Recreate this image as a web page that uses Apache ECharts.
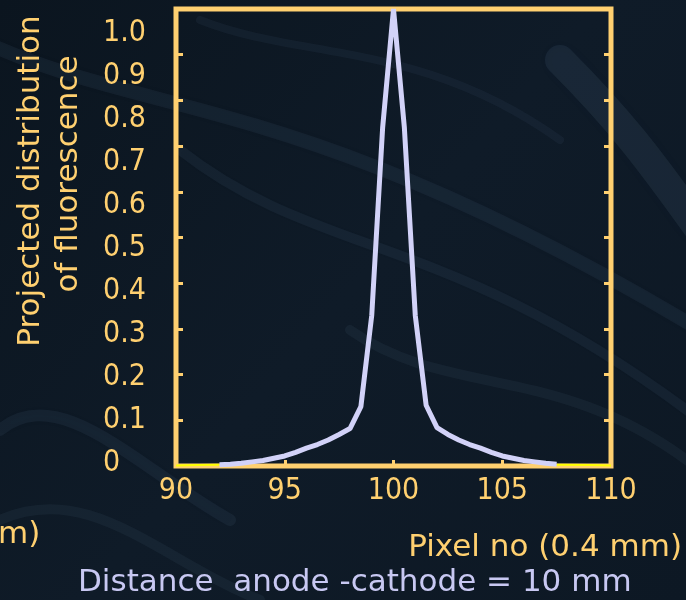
<!DOCTYPE html>
<html>
<head>
<meta charset="utf-8">
<script src="https://cdn.jsdelivr.net/npm/echarts@6/dist/echarts.min.js"></script>
<style>
html, body { margin: 0; padding: 0; background: #0d1824; }
#chart { width: 686px; height: 600px; }
</style>
</head>
<body>
<div id="chart"></div>
<script>
// pixel number (0.5 steps) and projected fluorescence
var pixelNo = [92, 92.5, 93, 93.5, 94, 94.5, 95, 95.5, 96, 96.5, 97, 97.5, 98, 98.5, 99, 99.5,
    100, 100.5, 101, 101.5, 102, 102.5, 103, 103.5, 104, 104.5, 105, 105.5, 106, 106.5, 107, 107.5];
var fluorescence = [0.003, 0.004, 0.006, 0.009, 0.012, 0.017, 0.022, 0.030, 0.039, 0.047, 0.057, 0.069, 0.082, 0.13, 0.33, 0.74,
    1.0, 0.74, 0.33, 0.133, 0.084, 0.069, 0.057, 0.047, 0.039, 0.030, 0.022, 0.017, 0.012, 0.009, 0.006, 0.004];

// thin yellow trace visible only at the edges
var edgeX = [90, 91, 92, 100, 107.5, 109, 110];
var edgeY = [0.001, 0.002, 0.003, '-', 0.003, 0.002, 0.001];

var xTicks = [90, 95, 100, 105, 110];
var yTicks = [0, 0.1, 0.2, 0.3, 0.4, 0.5, 0.6, 0.7, 0.8, 0.9, 1.0];

var orange = '#FFD070';
var lavender = '#D2D2F8';
var tickFont = '"Liberation Sans Narrow", "DejaVu Sans Condensed", sans-serif';
var textFont = '"DejaVu Sans", Verdana, sans-serif';

var mainData = pixelNo.map(function (x, i) { return [x, fluorescence[i]]; });
var edgeData = edgeX.map(function (x, i) { return [x, edgeY[i]]; });

var chart = echarts.init(document.getElementById('chart'));

// soft streaks for the textured slide background
function streak(x1, y1, cx1, cy1, cx2, cy2, x2, y2, w, a) {
    return {
        type: 'bezierCurve', z: -10, silent: true,
        shape: { x1: x1, y1: y1, cpx1: cx1, cpy1: cy1, cpx2: cx2, cpy2: cy2, x2: x2, y2: y2 },
        style: { stroke: 'rgba(100,130,160,' + a + ')', lineWidth: w, fill: null, lineCap: 'round',
            shadowBlur: 18, shadowColor: 'rgba(100,130,160,' + a + ')' }
    };
}

var option = {
    backgroundColor: {
        type: 'linear', x: 0, y: 0, x2: 1, y2: 1,
        colorStops: [
            { offset: 0, color: '#0b151f' },
            { offset: 0.5, color: '#0f1b28' },
            { offset: 1, color: '#0d1824' }
        ]
    },
    animation: false,
    grid: [
        { left: 176, top: 9, width: 435, height: 457, show: true,
          borderColor: orange, borderWidth: 5, backgroundColor: 'transparent' },
        { left: 110, top: 33, width: 1, height: 430 }
    ],
    xAxis: [
        {
            type: 'value', gridIndex: 0, min: 90, max: 110, interval: 5,
            axisLine: { show: false },
            axisTick: { inside: true, length: 6, lineStyle: { color: orange, width: 3 } },
            splitLine: { show: false },
            axisLabel: { color: orange, fontFamily: tickFont, fontSize: 30, margin: 10,
                formatter: function (v) { return xTicks.indexOf(v) >= 0 ? String(v) : ''; } }
        },
        { type: 'value', gridIndex: 1, show: false, min: 0, max: 1 }
    ],
    yAxis: [
        {
            type: 'value', gridIndex: 0, min: 0, max: 1, interval: 0.1,
            axisLine: { show: false },
            axisTick: { inside: true, length: 7, lineStyle: { color: orange, width: 3 } },
            splitLine: { show: false },
            axisLabel: { show: false }
        },
        {
            type: 'value', gridIndex: 0, min: 0, max: 1, interval: 0.1, position: 'right',
            axisLine: { show: false },
            axisTick: { inside: true, length: 7, lineStyle: { color: orange, width: 3 } },
            splitLine: { show: false },
            axisLabel: { show: false }
        },
        {
            // tick labels sit on their own slightly compressed scale, as in the slide
            type: 'value', gridIndex: 1, min: 0, max: 1, interval: 0.1,
            axisLine: { show: false }, axisTick: { show: false }, splitLine: { show: false },
            axisLabel: {
                color: orange, fontFamily: tickFont, fontSize: 30, align: 'left', margin: 7,
                formatter: function (v) {
                    var i = Math.round(v * 10);
                    return i === 0 ? '0' : yTicks[i].toFixed(1);
                }
            }
        }
    ],
    series: [
        {
            type: 'line', xAxisIndex: 0, yAxisIndex: 0, data: edgeData,
            showSymbol: false, lineStyle: { color: '#FFFF00', width: 2 }, z: 3
        },
        {
            type: 'line', xAxisIndex: 0, yAxisIndex: 0, data: mainData,
            showSymbol: false, lineStyle: { color: lavender, width: 5 }, z: 4
        }
    ],
    graphic: [
        streak(-20, 40, 150, 120, 300, 90, 700, 330, 14, 0.10),
        streak(180, 150, 320, 260, 450, 230, 700, 420, 10, 0.10),
        streak(560, 60, 620, 120, 650, 160, 700, 230, 30, 0.12),
        streak(0, 430, 60, 380, 140, 470, 230, 520, 12, 0.10),
        streak(0, 520, 90, 480, 160, 560, 260, 600, 10, 0.09),
        streak(350, 330, 450, 400, 560, 360, 700, 470, 10, 0.09),
        streak(200, 20, 300, 60, 420, 40, 560, 140, 8, 0.08),
        {
            type: 'text', x: 31, y: 181, rotation: Math.PI / 2, z: 10,
            style: { text: 'Projected distribution', fill: orange, font: '31px ' + textFont,
                textAlign: 'center', textVerticalAlign: 'middle' }
        },
        {
            type: 'text', x: 69, y: 174, rotation: Math.PI / 2, z: 10,
            style: { text: 'of fluorescence', fill: orange, font: '31px ' + textFont,
                textAlign: 'center', textVerticalAlign: 'middle' }
        },
        {
            type: 'text', x: 682, y: 548, z: 10,
            style: { text: 'Pixel no (0.4 mm)', fill: orange, font: '31px ' + textFont,
                textAlign: 'right', textVerticalAlign: 'middle' }
        },
        {
            type: 'text', x: -2, y: 535, z: 10,
            style: { text: 'm)', fill: orange, font: '31px ' + textFont,
                textAlign: 'left', textVerticalAlign: 'middle' }
        },
        {
            type: 'text', x: 78, y: 583, z: 10,
            style: { text: 'Distance  anode -cathode = 10 mm', fill: '#C8C8F2', font: '31px ' + textFont,
                textAlign: 'left', textVerticalAlign: 'middle' }
        }
    ]
};

chart.setOption(option);
</script>
</body>
</html>
